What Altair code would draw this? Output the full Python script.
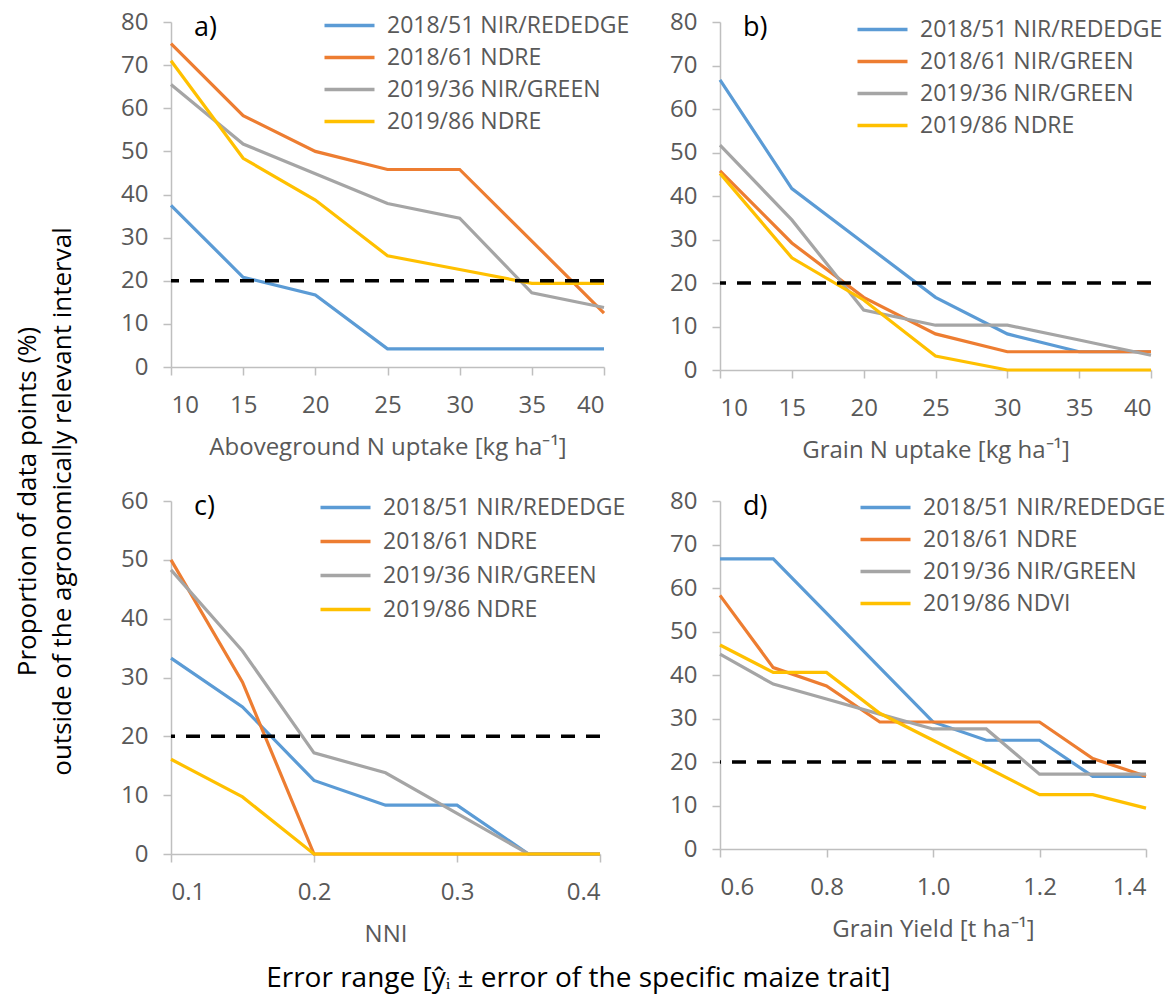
import altair as alt
import pandas as pd

COLORS = ["#5B9BD5", "#ED7D31", "#A5A5A5", "#FFC000"]
THRESHOLD = [20]

# ---- panel a: Aboveground N uptake ----
a_x = [10, 15, 20, 25, 30, 35, 40]
a_names = ["2018/51 NIR/REDEDGE", "2018/61 NDRE", "2019/36 NIR/GREEN", "2019/86 NDRE"]
a_blue = [37.5, 20.8, 16.7, 4.2, 4.2, 4.2, 4.2]
a_orange = [75.0, 58.3, 50.0, 45.8, 45.8, 29.2, 12.5]
a_gray = [65.5, 51.7, 44.8, 37.9, 34.5, 17.2, 13.8]
a_yellow = [71.0, 48.4, 38.7, 25.8, 22.6, 19.4, 19.4]

# ---- panel b: Grain N uptake ----
b_x = [10, 15, 20, 25, 30, 35, 40]
b_names = ["2018/51 NIR/REDEDGE", "2018/61 NIR/GREEN", "2019/36 NIR/GREEN", "2019/86 NDRE"]
b_blue = [66.7, 41.7, 29.2, 16.7, 8.3, 4.2, 4.2]
b_orange = [45.8, 29.2, 16.7, 8.3, 4.2, 4.2, 4.2]
b_gray = [51.7, 34.5, 13.8, 10.3, 10.3, 6.9, 3.4]
b_yellow = [45.2, 25.8, 16.1, 3.2, 0.0, 0.0, 0.0]

# ---- panel c: NNI ----
c_x = [0.10, 0.15, 0.20, 0.25, 0.30, 0.35, 0.40]
c_names = ["2018/51 NIR/REDEDGE", "2018/61 NDRE", "2019/36 NIR/GREEN", "2019/86 NDRE"]
c_blue = [33.3, 25.0, 12.5, 8.3, 8.3, 0.0, 0.0]
c_orange = [50.0, 29.2, 0.0, 0.0, 0.0, 0.0, 0.0]
c_gray = [48.3, 34.5, 17.2, 13.8, 6.9, 0.0, 0.0]
c_yellow = [16.1, 9.7, 0.0, 0.0, 0.0, 0.0, 0.0]

# ---- panel d: Grain yield ----
d_x = [0.6, 0.7, 0.8, 0.9, 1.0, 1.1, 1.2, 1.3, 1.4]
d_names = ["2018/51 NIR/REDEDGE", "2018/61 NDRE", "2019/36 NIR/GREEN", "2019/86 NDVI"]
d_blue = [66.7, 66.7, 54.2, 41.7, 29.2, 25.0, 25.0, 16.7, 16.7]
d_orange = [58.3, 41.7, 37.5, 29.2, 29.2, 29.2, 29.2, 20.8, 16.7]
d_gray = [44.8, 37.9, 34.5, 31.0, 27.6, 27.6, 17.2, 17.2, 17.2]
d_yellow = [46.9, 40.6, 40.6, 31.2, 25.0, 18.8, 12.5, 12.5, 9.4]

x_titles = ["Aboveground N uptake [kg ha\u207b\u00b9]", "Grain N uptake [kg ha\u207b\u00b9]",
            "NNI", "Grain Yield [t ha\u207b\u00b9]"]
panel_labels = ["a)", "b)", "c)", "d)"]
y_title = ["Proportion of data points (%)", "outside of the agronomically relevant interval"]
bottom_title = "Error range [\u0177\u1d62 \u00b1 error of the specific maize trait]"

FONT = "Open Sans"
GRAY_TXT = "#595959"
LINE_SYMBOL = "M-5,0H5"


def long_df(xs, names, series):
    rows = []
    for n, vals in zip(names, series):
        for x, v in zip(xs, vals):
            rows.append({"x": x, "v": v, "s": n})
    return pd.DataFrame(rows)


def panel(xs, names, series, xdomain, xticks, xfmt, ymax, xtitle, label, w, h, lx, ly, rowpad):
    df = long_df(xs, names, series)
    yticks = list(range(0, ymax + 1, 10))
    lines = alt.Chart(df).mark_line(strokeWidth=3.2).encode(
        x=alt.X("x:Q", scale=alt.Scale(domain=xdomain, nice=False, zero=False),
                axis=alt.Axis(values=xticks, format=xfmt, title=xtitle)),
        y=alt.Y("v:Q", scale=alt.Scale(domain=[0, ymax], nice=False),
                axis=alt.Axis(values=yticks, title=None)),
        color=alt.Color("s:N", scale=alt.Scale(domain=names, range=COLORS),
                        legend=alt.Legend(title=None, orient="none", legendX=lx, legendY=ly,
                                          symbolType=LINE_SYMBOL, symbolSize=100,
                                          symbolStrokeWidth=3.5, labelFont=FONT,
                                          labelFontSize=23, labelColor=GRAY_TXT,
                                          labelLimit=500, labelOffset=26, rowPadding=rowpad,
                                          padding=0)),
    )
    rule = alt.Chart(pd.DataFrame({"t": THRESHOLD})).mark_rule(
        color="black", strokeWidth=3.5, strokeDash=[14, 11]).encode(y="t:Q")
    return alt.layer(lines, rule).properties(
        width=w, height=h,
        title=alt.TitleParams(label, anchor="start", frame="group", dx=23, offset=-32,
                              fontSize=27, fontWeight="normal", color="black", font=FONT),
    )


pa = panel(a_x, a_names, [a_blue, a_orange, a_gray, a_yellow], [10, 40], a_x, "d", 80,
           x_titles[0], panel_labels[0], 433, 345, 167, -8, 8)
pb = panel(b_x, b_names, [b_blue, b_orange, b_gray, b_yellow], [10, 40], b_x, "d", 80,
           x_titles[1], panel_labels[1], 431, 348, 151, -4, 8)
pc = panel(c_x, c_names, [c_blue, c_orange, c_gray, c_yellow], [0.1, 0.4],
           [0.1, 0.2, 0.3, 0.4], ".1f", 60,
           x_titles[2], panel_labels[2], 429, 353, 163, -5, 10)
pd_ = panel(d_x, d_names, [d_blue, d_orange, d_gray, d_yellow], [0.6, 1.4],
            [0.6, 0.8, 1.0, 1.2, 1.4], ".1f", 80,
            x_titles[3], panel_labels[3], 426, 348, 154, -5, 8)

grid = alt.concat(pa, pb, pc, pd_, columns=2, spacing={"row": 131, "column": 116},
                  bounds="flush").resolve_scale(color="independent").properties(
    title=alt.TitleParams(bottom_title, orient="bottom", anchor="middle", offset=19, dx=-65,
                          fontSize=28, fontWeight="normal", color="black", font=FONT)
)

chart = alt.vconcat(grid).properties(
    title=alt.TitleParams(y_title, orient="left", anchor="middle", offset=45,
                          fontSize=26, lineHeight=35, fontWeight="normal",
                          color="black", font=FONT),
    padding={"left": 14, "top": 10, "right": 5, "bottom": 5},
).configure_axis(
    domainColor="#BFBFBF", domainWidth=1.5, tickColor="#BFBFBF", tickWidth=1.5,
    tickSize=8, grid=False, labelFont=FONT, labelFontSize=24, labelColor=GRAY_TXT,
    titleFont=FONT, titleFontSize=24, titleColor=GRAY_TXT, titleFontWeight="normal",
    titlePadding=18,
).configure_axisX(labelPadding=18).configure_axisY(labelPadding=15).configure_view(
    stroke=None
)

chart.save("out.html", embed_options={"renderer": "svg", "actions": False})
